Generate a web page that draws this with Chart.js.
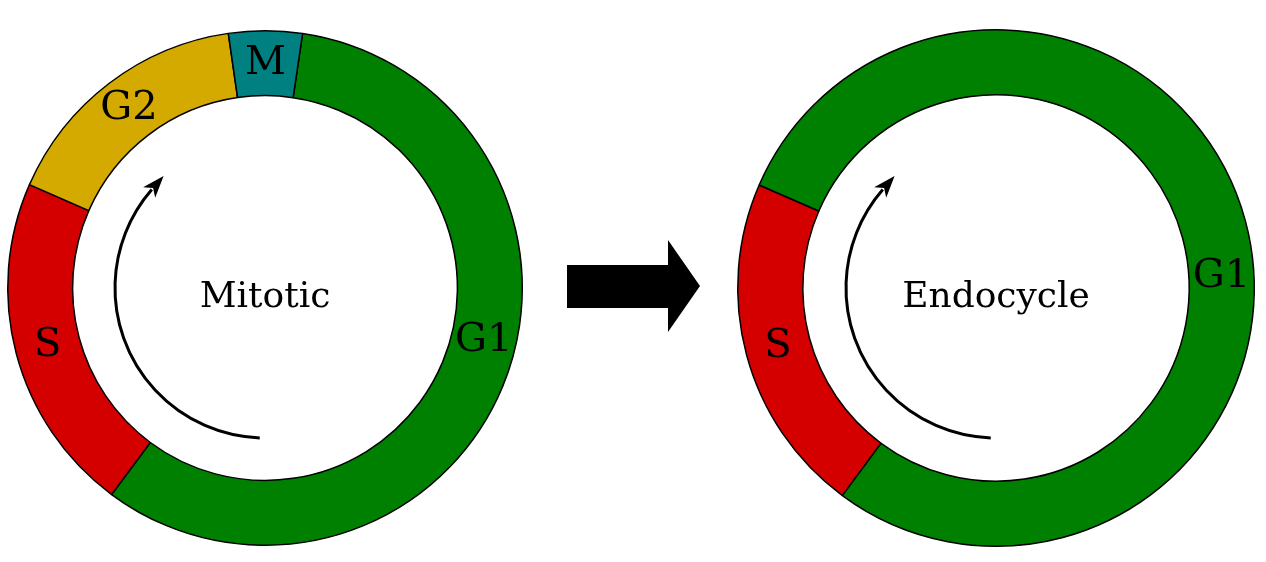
<!DOCTYPE html>
<html><head><meta charset="utf-8">
<script src="https://cdn.jsdelivr.net/npm/chart.js@4"></script>
<style>
html,body{margin:0;padding:0;background:#fff;width:1266px;height:562px;overflow:hidden;position:relative}
.c{position:absolute;top:0;width:530px;height:576px}
#arrow{position:absolute;left:0;top:0}
</style></head><body>
<div class="c" style="left:0"><canvas id="a"></canvas></div>
<div class="c" style="left:731px"><canvas id="b"></canvas></div>
<svg id="arrow" width="1266" height="562"><polygon points="567,265 668,265 668,240 700,286 668,332 668,308 567,308" fill="#000"/></svg>
<script>
const mitoticPhases = ['G1','S','G2','M'];
const mitoticDegrees = [208.2, 77.1, 58.1, 16.6];
const mitoticColors = ['#008000','#d40000','#d4aa00','#008080'];
const mitoticStart = 8.4;
const endoPhases = ['S','G1'];
const endoDegrees = [77, 283];
const endoColors = ['#d40000','#008000'];
const endoStart = 216.5;
const FONT = '"DejaVu Serif", "Liberation Serif", serif';

const deco = {
  id:'deco',
  afterDraw(chart, args, opts){
    const ctx = chart.ctx;
    const meta = chart.getDatasetMeta(0);
    const a0 = meta.data[0];
    const cx = a0.x, cy = a0.y;
    const rMid = (a0.innerRadius + a0.outerRadius)/2;
    ctx.save();
    ctx.fillStyle = '#000';
    ctx.textAlign='center'; ctx.textBaseline='middle';
    ctx.font = '40px ' + FONT;
    meta.data.forEach((arc,i)=>{
      const ang = (arc.startAngle+arc.endAngle)/2 + (opts.shift[i]||0)*Math.PI/180;
      ctx.fillText(chart.data.labels[i], cx + rMid*Math.cos(ang), cy + rMid*Math.sin(ang));
    });
    ctx.font = '36px ' + FONT;
    ctx.fillText(opts.title, cx, cy+10);
    // curved arrow
    const r = 150, s = 92*Math.PI/180, e = 221*Math.PI/180;
    ctx.lineWidth = 3; ctx.strokeStyle='#000';
    ctx.beginPath(); ctx.arc(cx,cy,r,s,e,false); ctx.stroke();
    const ex = cx + r*Math.cos(e), ey = cy + r*Math.sin(e);
    const dx = -Math.sin(e), dy = Math.cos(e);
    const px = -dy, py = dx;
    ctx.beginPath();
    ctx.moveTo(ex+dx*18, ey+dy*18);
    ctx.lineTo(ex-dx*4+px*8, ey-dy*4+py*8);
    ctx.lineTo(ex+dx*2, ey+dy*2);
    ctx.lineTo(ex-dx*4-px*8, ey-dy*4-py*8);
    ctx.closePath(); ctx.fill();
    ctx.restore();
  }
};

function make(id, labels, data, colors, rot, pad, title, shift){
  new Chart(document.getElementById(id), {
    type:'doughnut',
    data:{labels, datasets:[{data, backgroundColor:colors, borderColor:'#000', borderWidth:1.5}]},
    options:{
      responsive:true, maintainAspectRatio:false, animation:false,
      rotation:rot, cutout:'74.8%', layout:{padding:pad},
      plugins:{legend:{display:false}, tooltip:{enabled:false}, deco:{title, shift}}
    },
    plugins:[deco]
  });
}
make('a', mitoticPhases, mitoticDegrees, mitoticColors, mitoticStart, 7, 'Mitotic', [-9,0,0,0]);
make('b', endoPhases, endoDegrees, endoColors, endoStart, 6, 'Endocycle', [0,12]);
</script>
</body></html>
